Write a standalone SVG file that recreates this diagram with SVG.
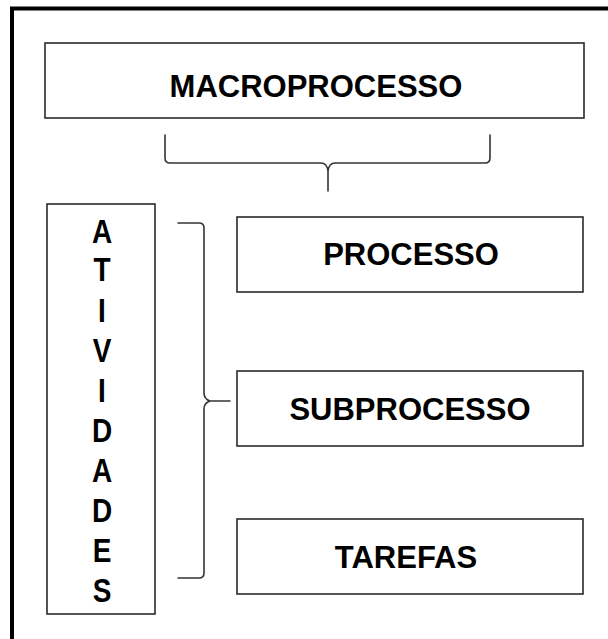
<svg xmlns="http://www.w3.org/2000/svg" width="608" height="639" viewBox="0 0 608 639">
<style>
  .box { fill: #ffffff; stroke: #2a2a2a; stroke-width: 1.6; }
  .lbl { font-family: "Liberation Sans", Arial, sans-serif; font-weight: bold; font-size: 31px; fill: #000; text-anchor: middle; }
  .vl { font-family: "Liberation Sans", Arial, sans-serif; font-weight: bold; font-size: 28px; fill: #000; text-anchor: middle; }
  .brace { fill: none; stroke: #333; stroke-width: 1.6; stroke-linecap: round; stroke-linejoin: round; }
</style>
<rect x="0" y="0" width="608" height="639" fill="#ffffff"/>
<g id="frame">
  <rect x="12" y="8.5" width="700" height="700" fill="none" stroke="#000" stroke-width="4"/>
</g>
<g id="macroprocesso">
  <rect class="box" x="45" y="43" width="539" height="75"/>
  <text class="lbl" x="316" y="97">MACROPROCESSO</text>
</g>
<g id="atividades">
  <rect class="box" x="47" y="204" width="108" height="410"/>
  <text class="vl" transform="translate(102,243) scale(1,1.2)">A</text>
  <text class="vl" transform="translate(102,281) scale(1,1.2)">T</text>
  <text class="vl" transform="translate(102,322) scale(1,1.2)">I</text>
  <text class="vl" transform="translate(102,362) scale(1,1.2)">V</text>
  <text class="vl" transform="translate(102,402) scale(1,1.2)">I</text>
  <text class="vl" transform="translate(102,442) scale(1,1.2)">D</text>
  <text class="vl" transform="translate(102,482) scale(1,1.2)">A</text>
  <text class="vl" transform="translate(102,522) scale(1,1.2)">D</text>
  <text class="vl" transform="translate(102,562) scale(1,1.2)">E</text>
  <text class="vl" transform="translate(102,602) scale(1,1.2)">S</text>
</g>
<g id="processo">
  <rect class="box" x="237" y="217" width="346" height="75"/>
  <text class="lbl" x="411" y="265">PROCESSO</text>
</g>
<g id="subprocesso">
  <rect class="box" x="237" y="371" width="346" height="75"/>
  <text class="lbl" x="410" y="420">SUBPROCESSO</text>
</g>
<g id="tarefas">
  <rect class="box" x="237" y="519" width="346" height="75"/>
  <text class="lbl" x="406" y="568">TAREFAS</text>
</g>
<g id="connectors">
  <path class="brace" d="M165,135 V158 Q165,163 170,163 H321 Q327,163 328,171 V191 M328,171 Q329,163 335,163 H485 Q490,163 490,158 V135"/>
  <path class="brace" d="M178,223 H199 Q204,223 204,228 V393 Q204,399 210,401 H230 M210,401 Q204,403 204,409 V573 Q204,578 199,578 H178"/>
</g>
</svg>
